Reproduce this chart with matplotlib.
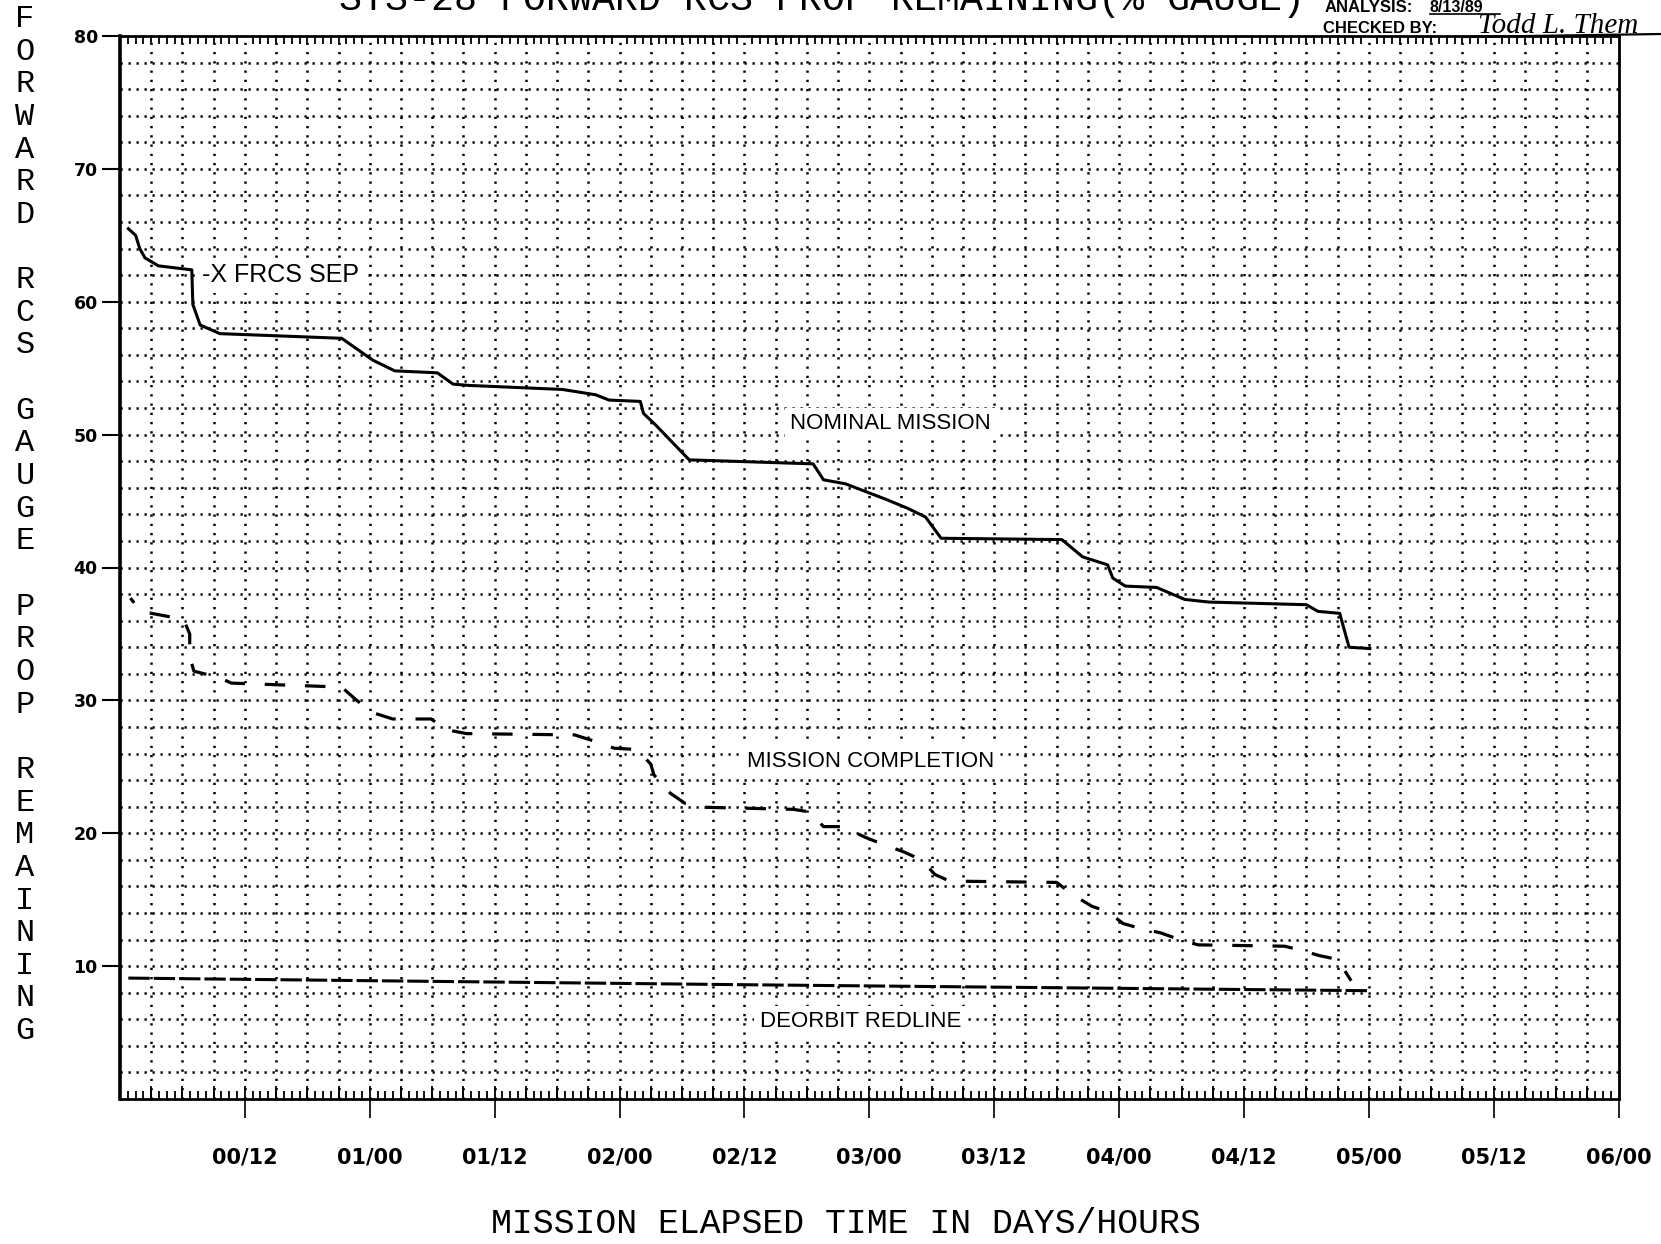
import numpy as np
import matplotlib
matplotlib.use("Agg")
import matplotlib.pyplot as plt
from matplotlib.lines import Line2D
from matplotlib.ticker import MultipleLocator

# mission elapsed time in hours, forward RCS gauge percent
nominal_hours = [0.8, 1.5, 1.9, 2.4, 3.7, 6.9, 7.0, 7.7, 9.6, 21.3, 24.3, 26.4,
                 30.5, 32.0, 33.6, 42.5, 45.7, 47.0, 50.0, 50.3, 51.5, 54.7,
                 66.6, 67.6, 69.7, 73.7, 75.7, 77.4, 78.9, 90.5, 92.5, 94.9,
                 95.4, 96.6, 99.6, 102.3, 104.6, 114.0, 115.1, 117.2, 118.1, 120.1]
nominal_pct = [65.5, 65.0, 64.0, 63.3, 62.7, 62.4, 59.8, 58.25, 57.6, 57.25, 55.6, 54.8,
               54.65, 53.8, 53.7, 53.4, 53.0, 52.6, 52.5, 51.6, 50.7, 48.1,
               47.8, 46.6, 46.3, 45.1, 44.45, 43.8, 42.2, 42.1, 40.8, 40.2,
               39.2, 38.6, 38.5, 37.6, 37.4, 37.2, 36.7, 36.55, 34.0, 33.9]

completion_hours = [1.0, 2.0, 6.1, 6.7, 6.7, 7.1, 9.6, 10.7, 21.3, 22.6, 24.2, 26.2,
                    29.9, 31.3, 33.3, 43.7, 45.7, 47.5, 49.7, 51.0, 51.3, 52.9,
                    54.3, 56.4, 64.7, 66.3, 67.6, 69.4, 71.6, 73.2, 75.3, 77.0,
                    78.3, 79.7, 90.0, 91.6, 93.4, 94.9, 96.4, 98.0, 100.0, 101.8,
                    103.6, 111.9, 113.5, 115.2, 117.0, 118.3]
completion_pct = [37.7, 36.7, 36.1, 35.0, 33.3, 32.2, 31.7, 31.3, 31.0, 30.1, 29.1, 28.6,
                  28.6, 27.8, 27.5, 27.4, 26.9, 26.4, 26.3, 25.2, 24.4, 23.0,
                  22.25, 21.95, 21.8, 21.6, 20.5, 20.5, 19.7, 19.2, 18.6, 18.0,
                  16.9, 16.4, 16.3, 15.35, 14.5, 14.1, 13.2, 12.85, 12.5, 12.0,
                  11.6, 11.5, 11.2, 10.8, 10.5, 8.9]

redline_hours = [0.8, 60.0, 120.0]
redline_pct = [9.1, 8.6, 8.15]

met_ticks = [12, 24, 36, 48, 60, 72, 84, 96, 108, 120, 132, 144]
met_labels = ["00/12", "01/00", "01/12", "02/00", "02/12", "03/00",
              "03/12", "04/00", "04/12", "05/00", "05/12", "06/00"]
pct_ticks = [10, 20, 30, 40, 50, 60, 70, 80]

notes = ["-X FRCS SEP", "NOMINAL MISSION", "MISSION COMPLETION", "DEORBIT REDLINE"]
note_hours = [7.9, 64.4, 60.25, 61.5]
note_pct = [62.0, 50.8, 25.4, 5.8]
note_sizes = [18, 16, 16, 16]

MONO = ["Liberation Mono", "DejaVu Sans Mono"]
NARROW = ["Liberation Sans Narrow", "DejaVu Sans"]
SANS = ["Liberation Sans", "DejaVu Sans"]

W, H = 1661, 1244
fig = plt.figure(figsize=(W / 100, H / 100), dpi=100)
ax = fig.add_axes([120 / W, 1 - 1099 / H, 1498.6 / W, 1063 / H])
ax.set_xlim(0, 144)
ax.set_ylim(0, 80)

# dotted plotter grid: every 2 % and every 3 hours
ax.hlines(np.arange(2, 80, 2), 0, 144, colors="black", linewidth=1.8,
          linestyles=[(0, (0.9, 2.3))], zorder=1)
ax.vlines(np.arange(3, 144, 3), 0, 80, colors="black", linewidth=1.8,
          linestyles=[(0, (0.9, 2.8))], zorder=1)

ax.plot(nominal_hours, nominal_pct, color="black", lw=2.2, zorder=3)
ax.plot(completion_hours, completion_pct, color="black", lw=2.3,
        linestyle=(4.5, (6.4, 6.2)), zorder=3)
ax.plot(redline_hours, redline_pct, color="black", lw=2.2,
        linestyle=(0, (7, 1.3)), zorder=3)

for s, x, y, fs in zip(notes, note_hours, note_pct, note_sizes):
    ax.text(x, y, s, ha="left", va="center", fontsize=fs, family=SANS, zorder=2,
            bbox=dict(facecolor="white", edgecolor="none", pad=4))

for sp in ax.spines.values():
    sp.set_linewidth(2.0)
ax.spines["left"].set_linewidth(2.6)

ax.set_xticks(met_ticks, met_labels)
ax.set_yticks(pct_ticks)
ax.xaxis.set_minor_locator(MultipleLocator(0.75))
ax.tick_params(axis="x", which="major", direction="out", length=14, width=1.2,
               pad=21, labelsize=15, top=False)
ax.tick_params(axis="x", which="minor", direction="in", length=5.5, width=1.3,
               top=True, bottom=True)
ax.tick_params(axis="y", which="major", direction="out", length=13, width=1.5,
               pad=3, labelsize=12.5)
for lab in ax.get_xticklabels() + ax.get_yticklabels():
    lab.set_family(NARROW)
    lab.set_fontweight("bold")

# longer inward ticks at the grid columns along the bottom
ax.vlines(np.arange(3, 144, 3), 0, 1.0, colors="black", linewidth=1.3, zorder=2)

# stacked vertical y label
ylab = "FORWARD RCS GAUGE PROP REMAINING"
for i, ch in enumerate(ylab):
    if ch != " ":
        fig.text(25 / W, 1 - (19 + i * 32.65) / H, ch, ha="center", va="center",
                 fontsize=23, family=MONO)

fig.text(846 / W, 1 - 1223.5 / H, "MISSION ELAPSED TIME IN DAYS/HOURS",
         ha="center", va="center", fontsize=25, family=MONO)

# title, mostly cut off by the top of the page
fig.text(1305 / W, 1 - 10 / H, "STS-28 FORWARD RCS PROP REMAINING(% GAUGE)",
         ha="right", va="baseline", fontsize=27.5, family=MONO)

fig.text(1325 / W, 1 - 11.5 / H, "ANALYSIS:", ha="left", va="baseline",
         fontsize=12, family=SANS, fontweight="bold")
fig.text(1430 / W, 1 - 11.5 / H, "8/13/89", ha="left", va="baseline",
         fontsize=11.5, family=SANS, fontweight="bold")
fig.add_artist(Line2D([1430 / W, 1500 / W], [1 - 14 / H, 1 - 14 / H],
                      color="black", lw=1.2))
fig.text(1323 / W, 1 - 33 / H, "CHECKED BY:", ha="left", va="baseline",
         fontsize=12, family=SANS, fontweight="bold")
fig.text(1478 / W, 1 - 33 / H, "Todd L. Them", ha="left", va="baseline",
         fontsize=21, style="italic", family=["Liberation Serif", "DejaVu Serif"])
fig.add_artist(Line2D([1462 / W, 1661 / W], [1 - 37 / H, 1 - 34 / H],
                      color="black", lw=1.6))

fig.savefig("out.png", dpi=100, facecolor="white")
